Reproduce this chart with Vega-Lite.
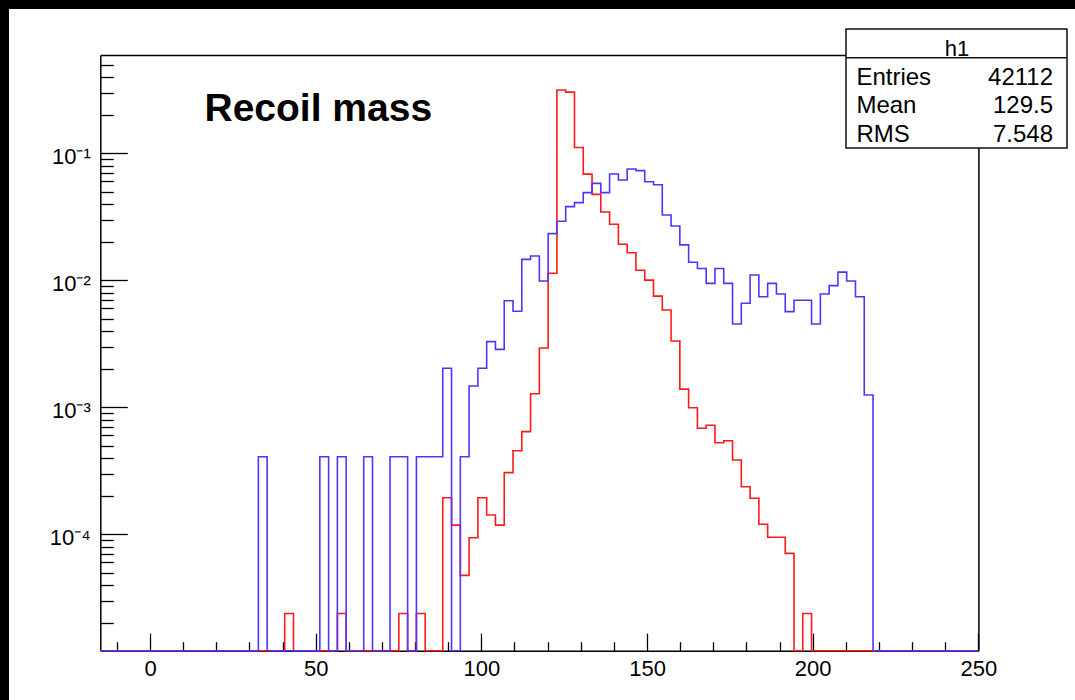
{
  "$schema": "https://vega.github.io/schema/vega-lite/v6.json",
  "width": 1066,
  "height": 691,
  "autosize": {"type": "none"},
  "padding": {"left": 9, "top": 9, "right": 0, "bottom": 0},
  "background": "black",
  "view": {"fill": "white", "stroke": null},
  "config": {"view": {"fill": "white", "stroke": null}, "font": "Liberation Sans"},
  "title": {
    "text": "Recoil mass",
    "anchor": "start",
    "frame": "group",
    "orient": "top",
    "offset": 0,
    "dx": 195.5,
    "dy": 151.4,
    "baseline": "alphabetic",
    "align": "left",
    "font": "Liberation Sans",
    "fontSize": 39,
    "fontWeight": "bold",
    "color": "black"
  },
  "datasets": {
    "bins": [
      {"mass": -15, "h1": 0, "h2": 0},
      {"mass": -12.35, "h1": 0, "h2": 0},
      {"mass": -9.7, "h1": 0, "h2": 0},
      {"mass": -7.05, "h1": 0, "h2": 0},
      {"mass": -4.4, "h1": 0, "h2": 0},
      {"mass": -1.75, "h1": 0, "h2": 0},
      {"mass": 0.9, "h1": 0, "h2": 0},
      {"mass": 3.55, "h1": 0, "h2": 0},
      {"mass": 6.2, "h1": 0, "h2": 0},
      {"mass": 8.85, "h1": 0, "h2": 0},
      {"mass": 11.5, "h1": 0, "h2": 0},
      {"mass": 14.15, "h1": 0, "h2": 0},
      {"mass": 16.8, "h1": 0, "h2": 0},
      {"mass": 19.45, "h1": 0, "h2": 0},
      {"mass": 22.1, "h1": 0, "h2": 0},
      {"mass": 24.75, "h1": 0, "h2": 0},
      {"mass": 27.4, "h1": 0, "h2": 0},
      {"mass": 30.05, "h1": 0, "h2": 0},
      {"mass": 32.7, "h1": 0, "h2": 0.000408},
      {"mass": 35.35, "h1": 0, "h2": 0},
      {"mass": 38, "h1": 0, "h2": 0},
      {"mass": 40.65, "h1": 0.0000238, "h2": 0},
      {"mass": 43.3, "h1": 0, "h2": 0},
      {"mass": 45.95, "h1": 0, "h2": 0},
      {"mass": 48.6, "h1": 0, "h2": 0},
      {"mass": 51.25, "h1": 0, "h2": 0.000408},
      {"mass": 53.9, "h1": 0, "h2": 0},
      {"mass": 56.55, "h1": 0.0000238, "h2": 0.000408},
      {"mass": 59.2, "h1": 0, "h2": 0},
      {"mass": 61.85, "h1": 0, "h2": 0},
      {"mass": 64.5, "h1": 0, "h2": 0.000408},
      {"mass": 67.15, "h1": 0, "h2": 0},
      {"mass": 69.8, "h1": 0, "h2": 0},
      {"mass": 72.45, "h1": 0, "h2": 0.000408},
      {"mass": 75.1, "h1": 0.0000238, "h2": 0.000408},
      {"mass": 77.75, "h1": 0, "h2": 0},
      {"mass": 80.4, "h1": 0.0000238, "h2": 0.000408},
      {"mass": 83.05, "h1": 0, "h2": 0.000408},
      {"mass": 85.7, "h1": 0, "h2": 0.000408},
      {"mass": 88.35, "h1": 0.000194, "h2": 0.00203},
      {"mass": 91, "h1": 0.000118, "h2": 0},
      {"mass": 93.65, "h1": 0.0000475, "h2": 0.000408},
      {"mass": 96.3, "h1": 0.000094, "h2": 0.00147},
      {"mass": 98.95, "h1": 0.000194, "h2": 0.00203},
      {"mass": 101.6, "h1": 0.000142, "h2": 0.00329},
      {"mass": 104.25, "h1": 0.000118, "h2": 0.00286},
      {"mass": 106.9, "h1": 0.000306, "h2": 0.0069},
      {"mass": 109.55, "h1": 0.000455, "h2": 0.0057},
      {"mass": 112.2, "h1": 0.000643, "h2": 0.01462},
      {"mass": 114.85, "h1": 0.00128, "h2": 0.01552},
      {"mass": 117.5, "h1": 0.00293, "h2": 0.00987},
      {"mass": 120.15, "h1": 0.01135, "h2": 0.0233},
      {"mass": 122.8, "h1": 0.315, "h2": 0.0292},
      {"mass": 125.45, "h1": 0.303, "h2": 0.038},
      {"mass": 128.1, "h1": 0.111, "h2": 0.0409},
      {"mass": 130.75, "h1": 0.0685, "h2": 0.049},
      {"mass": 133.4, "h1": 0.0475, "h2": 0.058},
      {"mass": 136.05, "h1": 0.0345, "h2": 0.049},
      {"mass": 138.7, "h1": 0.0276, "h2": 0.0687},
      {"mass": 141.35, "h1": 0.0192, "h2": 0.0616},
      {"mass": 144, "h1": 0.0165, "h2": 0.0752},
      {"mass": 146.65, "h1": 0.012, "h2": 0.073},
      {"mass": 149.3, "h1": 0.01004, "h2": 0.0597},
      {"mass": 151.95, "h1": 0.0075, "h2": 0.0565},
      {"mass": 154.6, "h1": 0.00583, "h2": 0.0327},
      {"mass": 157.25, "h1": 0.00333, "h2": 0.0268},
      {"mass": 159.9, "h1": 0.00139, "h2": 0.019},
      {"mass": 162.55, "h1": 0.000993, "h2": 0.01387},
      {"mass": 165.2, "h1": 0.000684, "h2": 0.0124},
      {"mass": 167.85, "h1": 0.000722, "h2": 0.00946},
      {"mass": 170.5, "h1": 0.000526, "h2": 0.0124},
      {"mass": 173.15, "h1": 0.000545, "h2": 0.00946},
      {"mass": 175.8, "h1": 0.000385, "h2": 0.00453},
      {"mass": 178.45, "h1": 0.000237, "h2": 0.00659},
      {"mass": 181.1, "h1": 0.000192, "h2": 0.01102},
      {"mass": 183.75, "h1": 0.00012, "h2": 0.00743},
      {"mass": 186.4, "h1": 0.0000947, "h2": 0.00946},
      {"mass": 189.05, "h1": 0.0000947, "h2": 0.0078},
      {"mass": 191.7, "h1": 0.0000708, "h2": 0.00567},
      {"mass": 194.35, "h1": 0, "h2": 0.00697},
      {"mass": 197, "h1": 0.0000238, "h2": 0.00697},
      {"mass": 199.65, "h1": 0, "h2": 0.00453},
      {"mass": 202.3, "h1": 0, "h2": 0.0078},
      {"mass": 204.95, "h1": 0, "h2": 0.00908},
      {"mass": 207.6, "h1": 0, "h2": 0.0116},
      {"mass": 210.25, "h1": 0, "h2": 0.00987},
      {"mass": 212.9, "h1": 0, "h2": 0.00743},
      {"mass": 215.55, "h1": 0, "h2": 0.00125},
      {"mass": 218.2, "h1": 0, "h2": 0},
      {"mass": 220.85, "h1": 0, "h2": 0},
      {"mass": 223.5, "h1": 0, "h2": 0},
      {"mass": 226.15, "h1": 0, "h2": 0},
      {"mass": 228.8, "h1": 0, "h2": 0},
      {"mass": 231.45, "h1": 0, "h2": 0},
      {"mass": 234.1, "h1": 0, "h2": 0},
      {"mass": 236.75, "h1": 0, "h2": 0},
      {"mass": 239.4, "h1": 0, "h2": 0},
      {"mass": 242.05, "h1": 0, "h2": 0},
      {"mass": 244.7, "h1": 0, "h2": 0},
      {"mass": 247.35, "h1": 0, "h2": 0},
      {"mass": 250, "h1": 0, "h2": 0}
    ],
    "stats": [
      {"stat": "Entries", "value": "42112", "num": 42112},
      {"stat": "Mean", "value": "129.5", "num": 129.5},
      {"stat": "RMS", "value": "7.548", "num": 7.548}
    ]
  },
  "layer": [
    {
      "data": {"name": "bins"},
      "mark": {"type": "line", "interpolate": "step-after", "color": "#ff1a1a", "strokeWidth": 1.6},
      "encoding": {
        "x": {
          "field": "mass",
          "type": "quantitative",
          "scale": {"domain": [-15, 250], "range": [91.3, 969.4], "nice": false, "zero": false},
          "axis": {
            "orient": "bottom",
            "offset": -49.3,
            "values": [-10, 0, 10, 20, 30, 40, 50, 60, 70, 80, 90, 100, 110, 120, 130, 140, 150, 160, 170, 180, 190, 200, 210, 220, 230, 240, 250],
            "tickSize": {"condition": {"test": "datum.value % 50 === 0", "value": -17.5}, "value": -9},
            "labelExpr": "datum.value % 50 === 0 ? datum.label : ''",
            "labelPadding": 25,
            "labelFontSize": 22,
            "labelFont": "Liberation Sans",
            "labelColor": "black",
            "labelOverlap": false,
            "labelFlush": false,
            "tickColor": "black",
            "tickWidth": 1.3,
            "domainColor": "black",
            "domainWidth": 1.5,
            "grid": false,
            "title": null
          }
        },
        "y": {
          "field": "h1",
          "type": "quantitative",
          "scale": {"type": "log", "domain": [0.000012118, 0.5943], "range": [641.7, 46], "clamp": true, "nice": false},
          "axis": {
            "orient": "left",
            "offset": -91.3,
            "values": [0.00002, 0.00003, 0.00004, 0.00005, 0.00006, 0.00007, 0.00008, 0.00009, 0.0001, 0.0002, 0.0003, 0.0004, 0.0005, 0.0006, 0.0007, 0.0008, 0.0009, 0.001, 0.002, 0.003, 0.004, 0.005, 0.006, 0.007, 0.008, 0.009, 0.01, 0.02, 0.03, 0.04, 0.05, 0.06, 0.07, 0.08, 0.09, 0.1, 0.2, 0.3, 0.4, 0.5],
            "tickSize": {"condition": {"test": "datum.value == 0.1 || datum.value == 0.01 || datum.value == 0.001 || datum.value == 0.0001", "value": -27}, "value": -13},
            "labelExpr": "datum.value == 0.1 ? '10\u207b\u00b9' : datum.value == 0.01 ? '10\u207b\u00b2' : datum.value == 0.001 ? '10\u207b\u00b3' : datum.value == 0.0001 ? '10\u207b\u2074' : ''",
            "labelPadding": 37,
            "labelOffset": 3,
            "labelFontSize": 22,
            "labelFont": "Liberation Sans",
            "labelColor": "black",
            "labelOverlap": false,
            "labelFlush": false,
            "tickColor": "black",
            "tickWidth": 1.3,
            "domainColor": "black",
            "domainWidth": 1.5,
            "grid": false,
            "title": null
          }
        }
      }
    },
    {
      "data": {"name": "bins"},
      "mark": {"type": "line", "interpolate": "step-after", "color": "#5533ff", "strokeWidth": 1.6},
      "encoding": {
        "x": {
          "field": "mass",
          "type": "quantitative",
          "axis": {"orient": "top", "offset": -46, "ticks": false, "labels": false, "domain": true, "domainColor": "black", "domainWidth": 1.5, "grid": false, "title": null}
        },
        "y": {
          "field": "h2",
          "type": "quantitative",
          "axis": {"orient": "right", "offset": -96.6, "ticks": false, "labels": false, "domain": true, "domainColor": "black", "domainWidth": 1.5, "grid": false, "title": null}
        }
      }
    },
    {
      "data": {"name": "stats"},
      "mark": {"type": "point", "opacity": 1},
      "encoding": {
        "size": {"value": 0},
        "opacity": {"value": 0},
        "fill": {
          "field": "num",
          "type": "quantitative",
          "scale": {"range": ["white", "white"]},
          "legend": {"orient": "none", "legendX": 837, "legendY": 20, "direction": "vertical", "gradientLength": 119, "gradientThickness": 221, "gradientStrokeColor": "#111111", "gradientStrokeWidth": 1.5, "title": null, "labelExpr": "''", "padding": 0, "zindex": 1}
        },
        "stroke": {
          "field": "num",
          "type": "quantitative",
          "scale": {"domain": [0, 50000], "range": ["#111111", "#111111"]},
          "legend": {"orient": "none", "legendX": 837, "legendY": 30, "direction": "horizontal", "gradientLength": 221, "gradientThickness": 1.5, "gradientStrokeWidth": 0, "title": "h1", "titleAnchor": "middle", "titleFontSize": 22, "titleFontWeight": "normal", "titleFont": "Liberation Sans", "titleColor": "black", "titlePadding": -4, "labelExpr": "''", "padding": 0, "zindex": 2}
        },
        "shape": {
          "field": "stat",
          "type": "nominal",
          "scale": {"domain": ["Entries", "Mean", "RMS"]},
          "legend": {"orient": "none", "legendX": 823.4, "legendY": 57, "title": null, "symbolSize": 0, "symbolOpacity": 0, "labelOffset": 0, "labelFontSize": 24, "labelFont": "Liberation Sans", "labelColor": "black", "rowPadding": 4.3, "padding": 0, "zindex": 3}
        },
        "strokeDash": {
          "field": "value",
          "type": "nominal",
          "scale": {"domain": ["42112", "129.5", "7.548"]},
          "legend": {"orient": "none", "legendX": 944, "legendY": 57, "title": null, "symbolType": "stroke", "symbolSize": 10000, "clipHeight": 24, "symbolOpacity": 0, "symbolStrokeWidth": 0, "labelOffset": 0, "labelAlign": "right", "labelFontSize": 24, "labelFont": "Liberation Sans", "labelColor": "black", "rowPadding": 4.3, "padding": 0, "zindex": 3}
        }
      }
    }
  ]
}
